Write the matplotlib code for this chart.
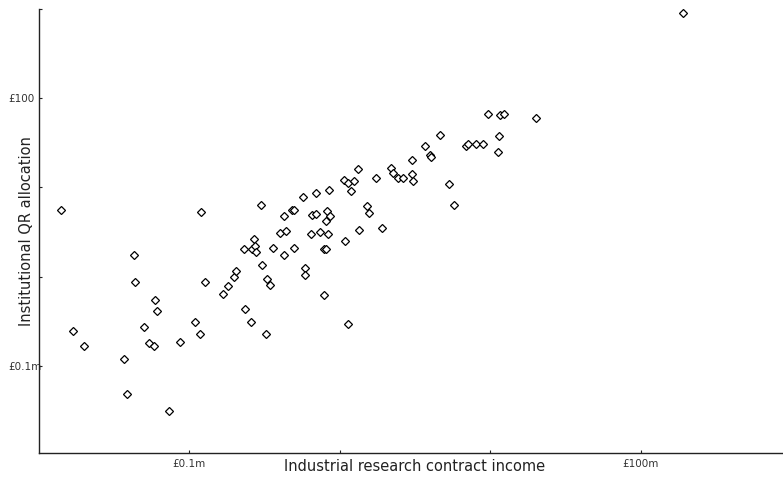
import matplotlib
matplotlib.use("Agg")
import matplotlib.pyplot as plt

# Industrial research contract income (£m) and institutional QR allocation (£m)
income = [190.5, 0.0140, 0.0170, 0.0200, 0.0368, 0.0387, 0.0429, 0.0438, 0.0500, 0.0540,
          0.0583, 0.0589, 0.0607, 0.0736, 0.0868, 0.1096, 0.1172, 0.1196, 0.1272, 0.1682,
          0.1808, 0.1982, 0.2053, 0.2310, 0.2356, 0.2570, 0.2622, 0.2691, 0.2745, 0.2788,
          0.3009, 0.3055, 0.3218, 0.3268, 0.3437, 0.3598, 0.4007, 0.4257, 0.4277, 0.4369,
          0.4790, 0.4940, 0.4985, 0.5694, 0.5845, 0.5899, 0.6436, 0.6567, 0.6916, 0.6948,
          0.7387, 0.7852, 0.7852, 0.806, 0.810, 0.826, 0.839, 0.844, 0.861, 1.066,
          1.088, 1.134, 1.139, 1.178, 1.243, 1.315, 1.335, 1.509, 1.563, 1.740,
          1.916, 2.189, 2.246, 2.425, 2.630, 3.018, 3.018, 3.079, 3.666, 3.975,
          4.018, 4.647, 5.356, 5.766, 6.89, 7.14, 8.04, 8.98, 9.61, 11.25,
          11.42, 11.6, 12.3, 20.2]
qr_allocation = [891, 5.62, 0.2485, 0.1688, 0.1189, 0.0489, 1.764, 0.866, 0.2755, 0.1810,
                 0.1688, 0.544, 0.410, 0.0316, 0.1842, 0.3086, 0.2265, 5.26, 0.866, 0.635,
                 0.787, 0.985, 1.149, 2.027, 0.4348, 0.3133, 2.058, 2.665, 2.190, 1.876,
                 6.40, 1.342, 0.2282, 0.950, 0.801, 2.112, 3.086, 1.736, 4.82, 3.274,
                 5.62, 5.62, 2.112, 7.75, 1.242, 1.045, 3.03, 4.87, 5.00, 8.59,
                 3.19, 2.058, 0.629, 2.043, 4.17, 5.48, 3.03, 9.42, 4.78, 12.0,
                 2.49, 0.2977, 11.1, 9.18, 11.9, 15.9, 3.33, 6.24, 5.10, 12.6,
                 3.48, 16.4, 14.6, 12.6, 12.8, 20.1, 14.2, 11.7, 28.7, 23.1,
                 22.1, 38.9, 11.0, 6.30, 29.1, 30.4, 30.9, 30.9, 66.4, 25.1,
                 37.6, 64.2, 66.4, 60.3]

x_ticks = [0.1, 1, 10, 100]
x_tick_labels = ["£0.1m", "", "", "£100m"]
y_ticks = [0.1, 1, 10, 100, 1000]
y_tick_labels = ["£0.1m", "", "", "£100", ""]

W, H = 783, 479
fig = plt.figure(figsize=(W / 100, H / 100), dpi=100)
left_px, right_px, top_px, bottom_px = 38.8, 791.3, 8.8, 453.0
ax = fig.add_axes([left_px / W, (H - bottom_px) / H,
                   (right_px - left_px) / W, (bottom_px - top_px) / H])

ax.plot(income, qr_allocation, linestyle="none", marker="D", markersize=3.6,
        markerfacecolor="white", markeredgecolor="black", markeredgewidth=0.9,
        clip_on=False)

ax.set_xscale("log")
ax.set_yscale("log")
ax.set_xlim(0.01, 1000)
ax.set_ylim(0.0106, 1000)
ax.minorticks_off()

ax.set_xticks(x_ticks)
ax.set_xticklabels(x_tick_labels)
ax.set_yticks(y_ticks)
ax.set_yticklabels(y_tick_labels)

for s in ("top", "right"):
    ax.spines[s].set_visible(False)
for s in ("left", "bottom"):
    ax.spines[s].set_linewidth(1.0)
    ax.spines[s].set_color("#222222")

ax.tick_params(axis="x", direction="in", length=2.5, width=0.8, pad=4,
               labelsize=7.5, labelcolor="#333333", color="#222222")
ax.tick_params(axis="y", direction="in", length=2.5, width=0.8, pad=21.6,
               labelsize=7.5, labelcolor="#333333", color="#222222")
for lab in ax.get_yticklabels():
    lab.set_horizontalalignment("left")

ax.set_xlabel("Industrial research contract income", fontsize=10.5, color="#222222")
ax.set_ylabel("Institutional QR allocation", fontsize=10.5, color="#222222")
ax.xaxis.set_label_coords(0.5, -0.0135)
ax.yaxis.set_label_coords(-0.007, 0.5)

fig.savefig("out.png", dpi=100)
